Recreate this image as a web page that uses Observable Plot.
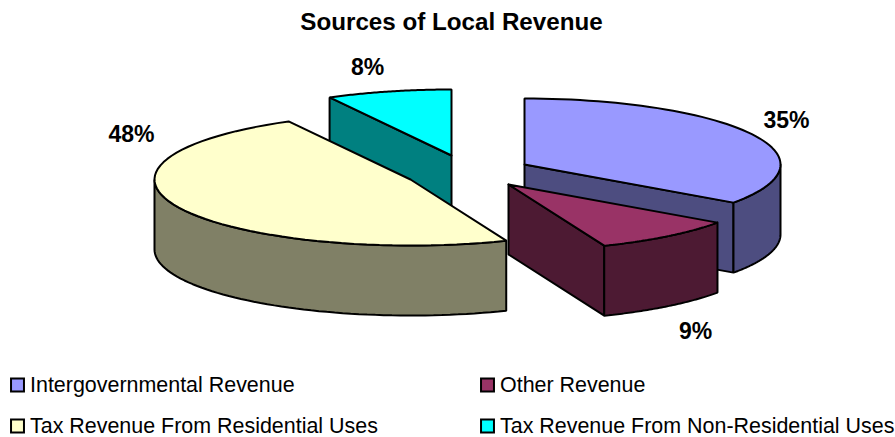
<!DOCTYPE html>
<html>
<head>
<meta charset="utf-8">
<script src="https://cdn.jsdelivr.net/npm/d3@7"></script>
<script src="https://cdn.jsdelivr.net/npm/@observablehq/plot@0.6"></script>
<style>html,body{margin:0;padding:0;background:#fff}svg{display:block}</style>
</head>
<body>
<div id="chart"></div>
<script>
const title = "Sources of Local Revenue";
const categories = ["Intergovernmental Revenue", "Other Revenue", "Tax Revenue From Residential Uses", "Tax Revenue From Non-Residential Uses"];
const shares = [34.8, 9.1, 48.2, 7.9];
const topColors = ["#9999FF", "#993366", "#FFFFCC", "#00FFFF"];
const sideColors = ["#4D4D80", "#4D1A33", "#808066", "#008080"];

// Layout of the exploded pie
const W = 895, H = 437;
const rx = 256, ry = 66, depth = 70;
const centers = [[524, 164], [508, 184], [410, 179], [451, 155]];
const labelPos = [[786, 120], [695, 331], [131, 134], [367, 67]];
const legendPos = [[17, 385], [487, 385], [17, 426], [487, 426]];
const legendDx = 12.5;

// Cumulative angles (radians, clockwise from 12 o'clock) derived from the shares
const total = d3.sum(shares);
let acc = 0;
const slices = shares.map((v, i) => {
  const a0 = acc / total * 2 * Math.PI;
  acc += v;
  return {i, a0, a1: acc / total * 2 * Math.PI, c: centers[i]};
});
const pt = (s, a, dz = 0) => ({x: s.c[0] + rx * Math.sin(a), y: s.c[1] - ry * Math.cos(a) + dz});
const arc = (s, a0, a1, dz = 0) => d3.range(0, 61).map(k => pt(s, a0 + (a1 - a0) * k / 60, dz));
const apex = (s, dz = 0) => ({x: s.c[0], y: s.c[1] + dz});
const closed = p => [...p, p[0]];

const topFace = s => closed([apex(s), ...arc(s, s.a0, s.a1)]);
const cutFace = (s, a) => closed([apex(s), pt(s, a), pt(s, a, depth), apex(s, depth)]);
// The outer wall is only seen on the front half of the ellipse
const wall = s => {
  const a0 = Math.max(s.a0, Math.PI / 2), a1 = Math.min(s.a1, 3 * Math.PI / 2);
  if (a1 <= a0) return null;
  return closed([...arc(s, a0, a1), ...arc(s, a1, a0, depth)]);
};

const face = (pts, fill) => Plot.line(pts, {
  x: "x", y: "y", fill, stroke: "#000", strokeWidth: 2, strokeLinejoin: "miter", curve: "linear"
});

const [blue, maroon, yellow, cyan] = slices;
const marks = [];
// cyan at the back
marks.push(face(cutFace(cyan, cyan.a0), sideColors[3]));
marks.push(face(topFace(cyan), topColors[3]));
// blue
marks.push(face(cutFace(blue, blue.a1), sideColors[0]));
marks.push(face(wall(blue), sideColors[0]));
marks.push(face(topFace(blue), topColors[0]));
// yellow
marks.push(face(wall(yellow), sideColors[2]));
marks.push(face(topFace(yellow), topColors[2]));
// maroon in front
marks.push(face(cutFace(maroon, maroon.a1), sideColors[1]));
marks.push(face(wall(maroon), sideColors[1]));
marks.push(face(topFace(maroon), topColors[1]));

const font = "Liberation Sans, Arial, sans-serif";
const labels = shares.map((v, i) => ({t: Math.round(v) + "%", x: labelPos[i][0], y: labelPos[i][1]}));
marks.push(Plot.text(labels, {x: "x", y: "y", text: "t", fontFamily: font, fontSize: 23, fontWeight: "bold", fill: "#000"}));
marks.push(Plot.text([title], {x: () => 451, y: () => 22, text: d => d, fontFamily: font, fontSize: 24.2, fontWeight: "bold", fill: "#000"}));

const legend = categories.map((name, i) => ({name, color: topColors[i], x: legendPos[i][0], y: legendPos[i][1]}));
marks.push(Plot.dot(legend, {x: "x", y: "y", dy: -0.5, symbol: "square", r: 7.3, fill: "color", stroke: "#000", strokeWidth: 2}));
marks.push(Plot.text(legend, {x: "x", y: "y", text: "name", dx: legendDx, textAnchor: "start", fontFamily: font, fontSize: 21.45, fill: "#000"}));

const chart = Plot.plot({
  width: W, height: H,
  margin: 0,
  x: {domain: [0, W], range: [0, W], axis: null},
  y: {domain: [0, H], range: [0, H], axis: null},
  style: {background: "#fff", overflow: "visible"},
  marks
});
document.getElementById("chart").append(chart);
</script>
</body>
</html>
